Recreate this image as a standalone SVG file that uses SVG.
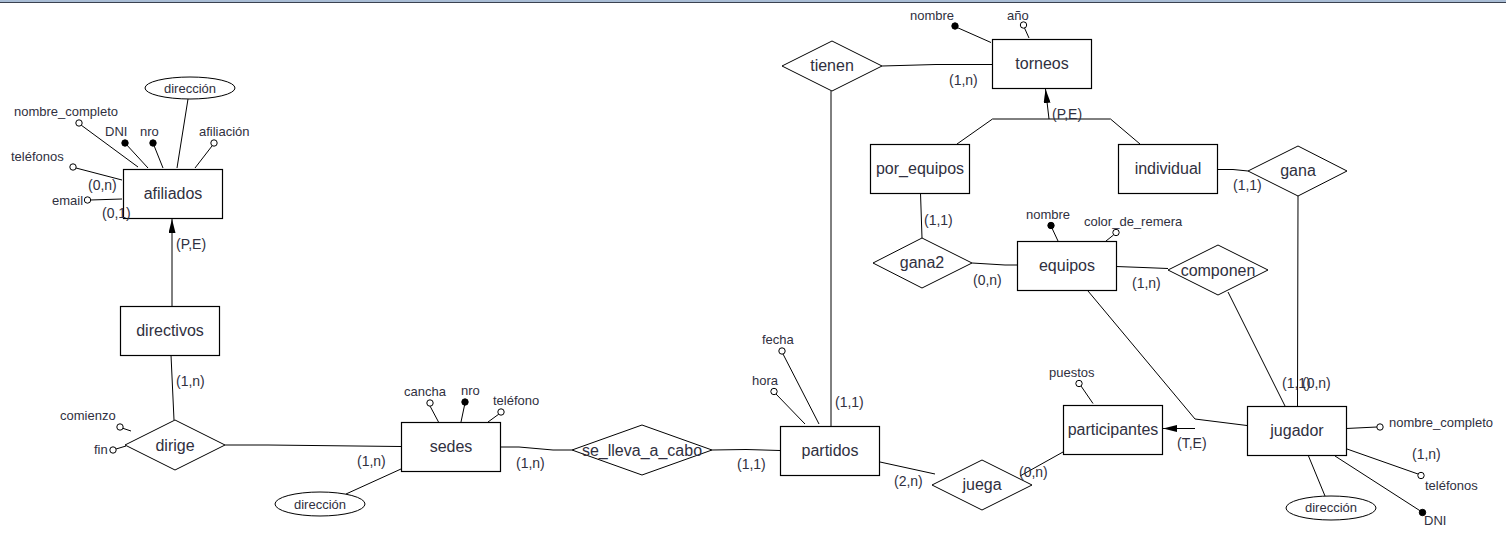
<svg xmlns="http://www.w3.org/2000/svg" width="1506" height="548" viewBox="0 0 1506 548">
<defs>
<style>
.ent rect{fill:#fff;stroke:#000;stroke-width:1.2}
.rel polygon{fill:#fff;stroke:#000;stroke-width:1}
.lbl{font-family:"Liberation Sans",Arial,sans-serif;font-size:16px;fill:#303040;text-anchor:middle}
.att{font-family:"Liberation Sans",Arial,sans-serif;font-size:13px;fill:#303040}
.card{font-family:"Liberation Sans",Arial,sans-serif;font-size:14px;fill:#303040}
.ctr{text-anchor:middle}
#connectors line,#connectors polyline{stroke:#000;stroke-width:1;fill:none}
.oc{fill:#fff;stroke:#000;stroke-width:1}
.fc{fill:#000;stroke:#000;stroke-width:1}
.ell{fill:#fff;stroke:#000;stroke-width:1}
</style>
<marker id="arr" viewBox="0 0 14 7" refX="14" refY="3.5" markerWidth="14" markerHeight="7" markerUnits="userSpaceOnUse" orient="auto">
<path d="M0,0 L14,3.5 L0,7 z" fill="#000"/>
</marker>
</defs>
<rect x="0" y="0" width="1506" height="548" fill="#fff"/>
<rect x="0" y="0" width="1506" height="2" fill="#a9bdd5"/>
<rect x="0" y="2" width="1506" height="1" fill="#3a4250"/>

<g id="connectors">
<!-- afiliados attributes -->
<line x1="188" y1="99" x2="177" y2="168"/>
<line x1="81" y1="125" x2="138" y2="167"/>
<line x1="125" y1="143" x2="148" y2="168"/>
<line x1="153" y1="143" x2="163" y2="168"/>
<line x1="212" y1="146" x2="195" y2="168"/>
<line x1="76" y1="168" x2="122" y2="180"/>
<line x1="90" y1="200" x2="122" y2="199"/>
<line x1="172" y1="306" x2="172" y2="219" marker-end="url(#arr)"/>
<!-- directivos - dirige -->
<line x1="171" y1="355" x2="174" y2="420"/>
<line x1="122" y1="428" x2="131" y2="431"/>
<line x1="116" y1="449" x2="126" y2="446"/>
<polyline points="225,445 268,445 356,446 401,446.5"/>
<!-- sedes -->
<line x1="430" y1="406" x2="438.5" y2="422"/>
<line x1="465" y1="403" x2="461" y2="422"/>
<line x1="499" y1="414" x2="488" y2="422"/>
<line x1="346" y1="494" x2="401" y2="469"/>
<polyline points="500,447 519,447 553,450 572,450"/>
<!-- partidos -->
<polyline points="712,450 746,449.5 780,450.5"/>
<line x1="831" y1="91" x2="831" y2="426"/>
<line x1="783" y1="354" x2="819" y2="424"/>
<line x1="776" y1="394" x2="805" y2="424"/>
<line x1="880" y1="462" x2="935" y2="474"/>
<line x1="1020" y1="476" x2="1063" y2="452"/>
<!-- participantes / jugador -->
<line x1="1081" y1="386" x2="1093" y2="403.5"/>
<line x1="1195" y1="428.5" x2="1163" y2="428.5" marker-end="url(#arr)"/>
<polyline points="1088,291 1195,419 1247,425.5"/>
<line x1="1228" y1="292" x2="1285" y2="406"/>
<line x1="1298" y1="196" x2="1297.5" y2="406"/>
<polyline points="1346,428.5 1377,427"/>
<line x1="1347" y1="449" x2="1418" y2="474"/>
<line x1="1335" y1="456" x2="1422" y2="512"/>
<line x1="1325" y1="496" x2="1308.5" y2="456"/>
<!-- torneos -->
<line x1="956" y1="27" x2="991" y2="42.5"/>
<line x1="1024.5" y1="28" x2="1029" y2="38"/>
<polyline points="882,66 936,64.5 992,64.5"/>
<line x1="1049" y1="119" x2="1045.5" y2="89" marker-end="url(#arr)"/>
<polyline points="957,144 992.5,119 1110.5,119 1140,144"/>
<!-- individual - gana -->
<polyline points="1217,169.5 1233,169.5 1248,171"/>
<!-- por_equipos - gana2 - equipos -->
<line x1="920.5" y1="193" x2="922" y2="238"/>
<polyline points="972,263 1005,265 1017,265"/>
<line x1="1051" y1="226" x2="1058" y2="241"/>
<line x1="1113.5" y1="235" x2="1106" y2="241"/>
<polyline points="1116,266.5 1143,267.5 1168,268.5"/>
</g>

<g id="attr-markers">
<circle class="oc" cx="79" cy="123" r="3.2"/>
<circle class="fc" cx="125" cy="143" r="3.2"/>
<circle class="fc" cx="153" cy="143" r="3.2"/>
<circle class="oc" cx="214" cy="143" r="3.2"/>
<circle class="oc" cx="73" cy="167" r="3.2"/>
<circle class="oc" cx="87.5" cy="200" r="3.2"/>
<circle class="oc" cx="120" cy="427" r="3.2"/>
<circle class="oc" cx="113" cy="450" r="3.2"/>
<circle class="oc" cx="430" cy="403" r="3.2"/>
<circle class="fc" cx="465" cy="402" r="3.2"/>
<circle class="oc" cx="501" cy="412" r="3.2"/>
<circle class="oc" cx="782" cy="351" r="3.2"/>
<circle class="oc" cx="774" cy="391.5" r="3.2"/>
<circle class="oc" cx="1079" cy="383.5" r="3.2"/>
<circle class="oc" cx="1380" cy="427" r="3.2"/>
<circle class="oc" cx="1421" cy="475.5" r="3.2"/>
<circle class="fc" cx="1422.5" cy="512.5" r="3.2"/>
<circle class="fc" cx="955" cy="26" r="3.2"/>
<circle class="oc" cx="1023.5" cy="25" r="3.2"/>
<circle class="fc" cx="1051" cy="225.5" r="3.2"/>
<circle class="oc" cx="1116" cy="232.5" r="3.2"/>
</g>

<g id="afiliados" class="ent"><rect x="123.5" y="169.5" width="99" height="49"/><text class="lbl" x="173" y="199">afiliados</text></g>
<g id="directivos" class="ent"><rect x="120.5" y="306.5" width="99" height="49"/><text class="lbl" x="170" y="336">directivos</text></g>
<g id="sedes" class="ent"><rect x="401.5" y="422.5" width="99" height="49"/><text class="lbl" x="451" y="452">sedes</text></g>
<g id="partidos" class="ent"><rect x="780.5" y="426.5" width="99" height="49"/><text class="lbl" x="830" y="456">partidos</text></g>
<g id="participantes" class="ent"><rect x="1063.5" y="405.5" width="99" height="49"/><text class="lbl" x="1113" y="435">participantes</text></g>
<g id="jugador" class="ent"><rect x="1247.5" y="406.5" width="99" height="49"/><text class="lbl" x="1297" y="436">jugador</text></g>
<g id="torneos" class="ent"><rect x="992.5" y="39.5" width="99" height="49"/><text class="lbl" x="1042" y="69">torneos</text></g>
<g id="por_equipos" class="ent"><rect x="870.5" y="144.5" width="99" height="49"/><text class="lbl" x="920" y="174">por_equipos</text></g>
<g id="individual" class="ent"><rect x="1118.5" y="144.5" width="99" height="49"/><text class="lbl" x="1168" y="174">individual</text></g>
<g id="equipos" class="ent"><rect x="1017.5" y="241.5" width="99" height="49"/><text class="lbl" x="1067" y="271">equipos</text></g>

<g id="dirige" class="rel"><polygon points="125,445 175,420 225,445 175,470"/><text class="lbl" x="175" y="451">dirige</text></g>
<g id="se_lleva_a_cabo" class="rel"><polygon points="572,450 642,425 712,450 642,475"/><text class="lbl" x="642" y="456">se_lleva_a_cabo</text></g>
<g id="juega" class="rel"><polygon points="932,485 982,460 1032,485 982,510"/><text class="lbl" x="982" y="490">juega</text></g>
<g id="tienen" class="rel"><polygon points="782,66 832,41 882,66 832,91"/><text class="lbl" x="832" y="71">tienen</text></g>
<g id="gana" class="rel"><polygon points="1248,171 1298,146 1347,171 1298,196"/><text class="lbl" x="1298" y="176">gana</text></g>
<g id="gana2" class="rel"><polygon points="873,263 922,238 972,263 922,288"/><text class="lbl" x="922" y="268">gana2</text></g>
<g id="componen" class="rel"><polygon points="1168,270 1218,245 1268,270 1218,295"/><text class="lbl" x="1218" y="276">componen</text></g>

<g id="ellipses">
<ellipse class="ell" cx="190" cy="88" rx="45" ry="11"/><text class="att ctr" x="190" y="92.5">dirección</text>
<ellipse class="ell" cx="320" cy="504" rx="45" ry="12"/><text class="att ctr" x="320" y="508.5">dirección</text>
<ellipse class="ell" cx="1331" cy="508" rx="45" ry="12"/><text class="att ctr" x="1331" y="512">dirección</text>
</g>

<g id="attr-labels">
<text class="att" x="14" y="116">nombre_completo</text>
<text class="att" x="105" y="136">DNI</text>
<text class="att" x="140" y="136">nro</text>
<text class="att" x="199" y="136">afiliación</text>
<text class="att" x="11" y="161">teléfonos</text>
<text class="att" x="52" y="205">email</text>
<text class="att" x="60" y="420">comienzo</text>
<text class="att" x="94" y="454">fin</text>
<text class="att" x="404" y="396">cancha</text>
<text class="att" x="461" y="395">nro</text>
<text class="att" x="493" y="405">teléfono</text>
<text class="att" x="762" y="343.5">fecha</text>
<text class="att" x="752" y="385">hora</text>
<text class="att" x="1049" y="377">puestos</text>
<text class="att" x="1389" y="427">nombre_completo</text>
<text class="att" x="1425" y="489.5">teléfonos</text>
<text class="att" x="1424" y="525">DNI</text>
<text class="att" x="910" y="19.5">nombre</text>
<text class="att" x="1007" y="19.5">año</text>
<text class="att" x="1026" y="218.5">nombre</text>
<text class="att" x="1084" y="226">color_de_remera</text>
</g>

<g id="cardinalities">
<text class="card" x="88" y="190">(0,n)</text>
<text class="card" x="102" y="218">(0,1)</text>
<text class="card" x="176" y="249">(P,E)</text>
<text class="card" x="176" y="386">(1,n)</text>
<text class="card" x="357" y="466">(1,n)</text>
<text class="card" x="516" y="467.5">(1,n)</text>
<text class="card" x="737" y="469">(1,1)</text>
<text class="card" x="835" y="407">(1,1)</text>
<text class="card" x="894" y="486">(2,n)</text>
<text class="card" x="1019" y="477">(0,n)</text>
<text class="card" x="1177" y="447.5">(T,E)</text>
<text class="card" x="1282" y="387.5">(1,1)</text>
<text class="card" x="1302" y="387.5">(0,n)</text>
<text class="card" x="1412" y="458.5">(1,n)</text>
<text class="card" x="949" y="84.5">(1,n)</text>
<text class="card" x="1052" y="119">(P,E)</text>
<text class="card" x="1233" y="189.5">(1,1)</text>
<text class="card" x="924" y="224.5">(1,1)</text>
<text class="card" x="973" y="285">(0,n)</text>
<text class="card" x="1132" y="287.5">(1,n)</text>
</g>
</svg>
